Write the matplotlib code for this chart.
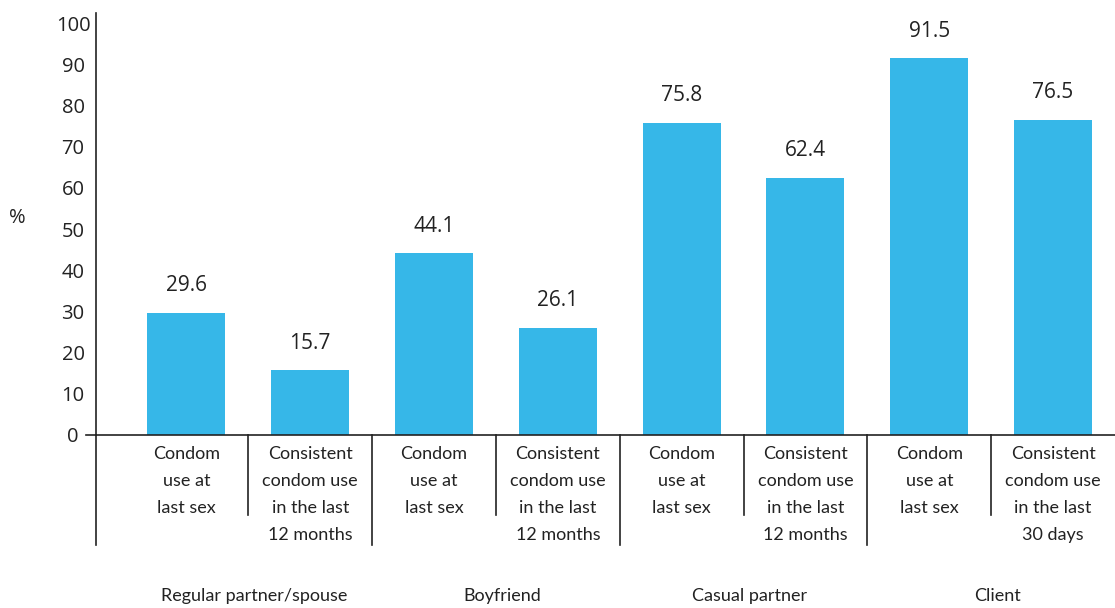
import matplotlib
matplotlib.use("Agg")
import matplotlib.pyplot as plt
import matplotlib.transforms as mtransforms

categories = [
    "Condom\nuse at\nlast sex",
    "Consistent\ncondom use\nin the last\n12 months",
    "Condom\nuse at\nlast sex",
    "Consistent\ncondom use\nin the last\n12 months",
    "Condom\nuse at\nlast sex",
    "Consistent\ncondom use\nin the last\n12 months",
    "Condom\nuse at\nlast sex",
    "Consistent\ncondom use\nin the last\n30 days",
]
values = [29.6, 15.7, 44.1, 26.1, 75.8, 62.4, 91.5, 76.5]
groups = ["Regular partner/spouse", "Boyfriend", "Casual partner", "Client"]
yticks = [0, 10, 20, 30, 40, 50, 60, 70, 80, 90, 100]

BAR = "#36B7E8"
TXT = "#222222"
NUM_FONT = "Open Sans"
CAT_FONT = "Lato"

fig = plt.figure(figsize=(11.15, 6.08), dpi=100)
ax = fig.add_axes([96 / 1115, (608 - 435) / 608, 1 - 96 / 1115, (435 - 13) / 608])

x = list(range(len(values)))
bars = ax.bar(x, values, width=0.63, color=BAR, zorder=2)

ax.set_xlim(-0.73, 7.5)
ax.set_ylim(0, 102.5)

for spine in ["top", "right"]:
    ax.spines[spine].set_visible(False)
ax.spines["left"].set_visible(False)
ax.spines["bottom"].set_color(TXT)
ax.spines["bottom"].set_linewidth(1.2)

# y ticks
ax.set_yticks(yticks)
ax.set_yticklabels([str(t) for t in yticks], fontfamily=NUM_FONT, fontsize=14.5, color=TXT)
ax.tick_params(axis="y", length=0, pad=16.5)
for lab in ax.get_yticklabels():
    lab.set_horizontalalignment("center")

# x tick labels
ax.set_xticks(x)
ax.set_xticklabels(categories, fontfamily=CAT_FONT, fontsize=13, color=TXT, linespacing=1.85)
ax.tick_params(axis="x", length=0, pad=8)

trans_ax = ax.transAxes
blend = mtransforms.blended_transform_factory(ax.transData, ax.transAxes)

# left spine extended below
ax.plot([0, 0], [-0.26, 1.0], transform=trans_ax, color=TXT, lw=1.2, clip_on=False)
# bottom axis extended to the left (0 tick)
ax.plot([-10 / 1019, 0], [0, 0], transform=trans_ax, color=TXT, lw=1.2, clip_on=False)

# separators
for i in range(1, len(values)):
    b = i - 0.5
    depth = -0.26 if i % 2 == 0 else -0.19
    ax.plot([b, b], [0, depth], transform=blend, color=TXT, lw=1.2, clip_on=False)

# value labels
for xi, v in zip(x, values):
    ax.annotate(f"{v:.1f}", (xi, v), xytext=(0, 12), textcoords="offset points",
                ha="center", va="bottom", fontfamily=NUM_FONT, fontsize=15, color=TXT)

# group labels
for gi, g in enumerate(groups):
    ax.text(2 * gi + 0.55, -(596 - 435) / 422, g, transform=blend, ha="center", va="center",
            fontfamily=CAT_FONT, fontsize=13, color=TXT)

# % label
fig.text(17 / 1115, 1 - 218 / 608, "%", ha="center", va="center",
         fontfamily=NUM_FONT, fontsize=14.5, color=TXT)

fig.savefig("out.png", dpi=100)
